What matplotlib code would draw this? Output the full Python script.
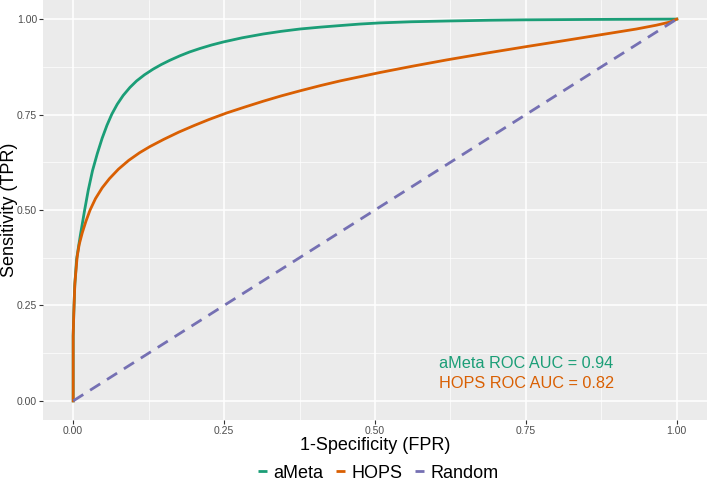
import matplotlib
matplotlib.use("Agg")
import matplotlib.pyplot as plt
from matplotlib.lines import Line2D
from matplotlib.ticker import MultipleLocator

plt.rcParams.update({
    "font.family": ["Liberation Sans", "DejaVu Sans"],
})

# ---------------------------------------------------------------------------
# Data
# ---------------------------------------------------------------------------
ameta_fpr = [0.0, 0.0, 0.001, 0.0025, 0.0056, 0.0085, 0.012, 0.019, 0.025,
             0.032, 0.040, 0.048, 0.056, 0.064, 0.073, 0.0828, 0.094,
             0.105, 0.118, 0.1325, 0.146, 0.160, 0.177, 0.193, 0.210, 0.229,
             0.2485, 0.28, 0.315, 0.345, 0.3755, 0.41, 0.442, 0.475, 0.508,
             0.56, 0.62, 0.69, 0.745, 0.85, 1.0]
ameta_tpr = [0.0, 0.17, 0.23, 0.30, 0.37, 0.40, 0.435, 0.50, 0.552,
             0.603, 0.648, 0.688, 0.722, 0.751, 0.777, 0.800, 0.821,
             0.838, 0.854, 0.869, 0.881, 0.892, 0.904, 0.914, 0.923, 0.932,
             0.940, 0.951, 0.961, 0.968, 0.974, 0.979, 0.983, 0.987, 0.990,
             0.993, 0.995, 0.997, 0.998, 0.999, 1.0]

hops_fpr = [0.0, 0.0, 0.001, 0.0028, 0.0066, 0.010, 0.015, 0.021, 0.028,
            0.037, 0.048, 0.060, 0.075, 0.092, 0.110, 0.127, 0.150, 0.175,
            0.200, 0.225, 0.254, 0.285, 0.315, 0.345, 0.3755, 0.41, 0.442,
            0.475, 0.508, 0.56, 0.6185, 0.685, 0.751, 0.815, 0.878, 0.933,
            0.966, 0.988, 1.0]
hops_tpr = [0.0, 0.17, 0.23, 0.308, 0.378, 0.41, 0.44, 0.47, 0.50,
            0.53, 0.558, 0.582, 0.607, 0.630, 0.650, 0.666, 0.685, 0.704,
            0.721, 0.737, 0.754, 0.770, 0.785, 0.799, 0.812, 0.826, 0.838,
            0.849, 0.860, 0.876, 0.893, 0.911, 0.928, 0.944, 0.960, 0.974,
            0.984, 0.992, 1.0]

random_fpr = [0.0, 1.0]
random_tpr = [0.0, 1.0]

series_names = ["aMeta", "HOPS", "Random"]
auc_labels = ["aMeta ROC AUC = 0.94", "HOPS ROC AUC = 0.82"]
ticks = [0.0, 0.25, 0.5, 0.75, 1.0]
tick_labels = ["0.00", "0.25", "0.50", "0.75", "1.00"]

# Colours (ColorBrewer Dark2)
COL_AMETA = "#1B9E77"
COL_HOPS = "#D95F02"
COL_RANDOM = "#7570B3"

# ---------------------------------------------------------------------------
# Figure
# ---------------------------------------------------------------------------
fig = plt.figure(figsize=(7.08, 4.82), dpi=100)
ax = fig.add_axes([43 / 708, 1 - 420 / 482, 664 / 708, 420 / 482])

ax.set_facecolor("#EBEBEB")
for s in ax.spines.values():
    s.set_visible(False)

ax.set_xlim(-0.05, 1.05)
ax.set_ylim(-0.05, 1.05)
ax.xaxis.set_minor_locator(MultipleLocator(0.125))
ax.yaxis.set_minor_locator(MultipleLocator(0.125))
ax.set_xticks(ticks)
ax.set_xticklabels(tick_labels)
ax.set_yticks(ticks)
ax.set_yticklabels(tick_labels)

ax.grid(which="major", color="white", linewidth=1.1)
ax.grid(which="minor", color="white", linewidth=0.5)
ax.set_axisbelow(True)

ax.tick_params(which="major", length=2.8, width=0.8, color="#333333",
               labelsize=7.5, labelcolor="#4D4D4D", pad=1.5)
ax.tick_params(which="minor", length=0)

ax.plot(ameta_fpr, ameta_tpr, color=COL_AMETA, lw=2.0, solid_joinstyle="round")
ax.plot(hops_fpr, hops_tpr, color=COL_HOPS, lw=2.0, solid_joinstyle="round")
ax.plot(random_fpr, random_tpr, color=COL_RANDOM, lw=2.0,
        linestyle=(0, (4.3, 2.9)))

ax.text(0.606, 0.099, auc_labels[0], color=COL_AMETA, fontsize=11.7,
        ha="left", va="center")
ax.text(0.606, 0.046, auc_labels[1], color=COL_HOPS, fontsize=11.7,
        ha="left", va="center")

ax.set_xlabel("1-Specificity (FPR)", fontsize=13, labelpad=0.5)
fig.text(9.5 / 708, 1 - 210 / 482, "Sensitivity (TPR)", fontsize=13,
         rotation=90, ha="center", va="center")

handles = [Line2D([], [], color=c, lw=2.0, solid_capstyle="butt")
           for c in (COL_AMETA, COL_HOPS, COL_RANDOM)]
fig.legend(handles, series_names, loc="center", ncol=3,
           bbox_to_anchor=(378 / 708, 1 - 473 / 482), frameon=False,
           fontsize=13, handlelength=0.5, handletextpad=0.35,
           columnspacing=0.7, borderpad=0.0)

fig.savefig("out.png", dpi=100)
